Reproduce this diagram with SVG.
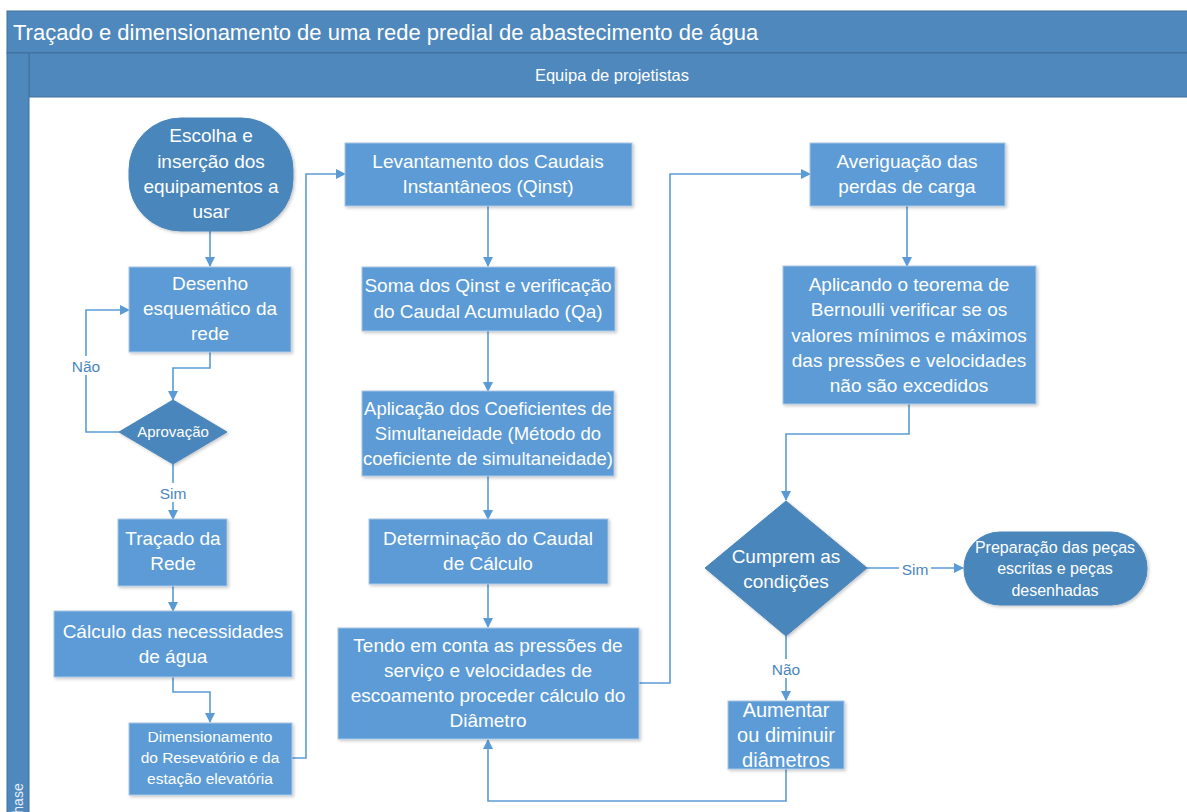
<svg xmlns="http://www.w3.org/2000/svg" width="1187" height="812" viewBox="0 0 1187 812">
<defs>
<style>
.hdr{fill:#4f88bc;stroke:#41719c;stroke-width:1}
.box{fill:#5b9bd5;stroke:#a9c6e6;stroke-width:1;filter:url(#sh)}
.dark{fill:#4a86bb;stroke:#4a86bb;stroke-width:1;filter:url(#sh)}
.t{font-family:"Liberation Sans",Arial,sans-serif;fill:#ffffff;text-anchor:middle}
.lbl{font-family:"Liberation Sans",Arial,sans-serif;fill:#4a86bb;text-anchor:middle;font-size:15.5px}
.c{fill:none;stroke:#5b9bd5;stroke-width:1.6}
</style>
<filter id="sh" x="-10%" y="-10%" width="130%" height="130%">
<feDropShadow dx="1.5" dy="1.5" stdDeviation="1.5" flood-color="#000" flood-opacity="0.22"/>
</filter>
<marker id="ar" markerWidth="10" markerHeight="10" refX="9" refY="5" orient="auto" markerUnits="userSpaceOnUse">
<path d="M0,0 L10,5 L0,10 z" fill="#5b9bd5"/>
</marker>
</defs>
<rect width="1187" height="812" fill="#ffffff"/>
<g id="frame">
<rect class="hdr" x="7" y="11" width="1190" height="42"/>
<rect class="hdr" x="29" y="53" width="1168" height="44"/>
<rect class="hdr" x="7" y="53" width="22" height="770"/>
<text x="13" y="40" font-family="Liberation Sans,Arial,sans-serif" font-size="22" fill="#ffffff">Traçado e dimensionamento de uma rede predial de abastecimento de água</text>
<text class="t" x="612" y="81" font-size="16.5">Equipa de projetistas</text>
<text x="23" y="823" font-family="Liberation Sans,Arial,sans-serif" font-size="14" fill="#e8eef6" transform="rotate(-90 23 823)">Phase</text>
</g>
<g id="connectors">
<path class="c" d="M210,231 V266" marker-end="url(#ar)"/>
<path class="c" d="M210,352 V368 H173 V400" marker-end="url(#ar)"/>
<path class="c" d="M119,432 H86 V310 H129" marker-end="url(#ar)"/>
<path class="c" d="M173,464 V519" marker-end="url(#ar)"/>
<path class="c" d="M173,586 V611" marker-end="url(#ar)"/>
<path class="c" d="M173,677 V692 H210 V722" marker-end="url(#ar)"/>
<path class="c" d="M292,758 H306 V174 H345" marker-end="url(#ar)"/>
<path class="c" d="M488,206 V266" marker-end="url(#ar)"/>
<path class="c" d="M488,331 V391" marker-end="url(#ar)"/>
<path class="c" d="M488,476 V519" marker-end="url(#ar)"/>
<path class="c" d="M488,584 V627" marker-end="url(#ar)"/>
<path class="c" d="M639,683 H670 V174 H810" marker-end="url(#ar)"/>
<path class="c" d="M907,206 V266" marker-end="url(#ar)"/>
<path class="c" d="M909,404 V434 H786 V500" marker-end="url(#ar)"/>
<path class="c" d="M867,568 H963" marker-end="url(#ar)"/>
<path class="c" d="M786,636 V700" marker-end="url(#ar)"/>
<path class="c" d="M786,769 V801 H488 V740" marker-end="url(#ar)"/>
<rect x="69" y="356" width="34" height="19" fill="#ffffff"/>
<text class="lbl" x="86" y="372">Não</text>
<rect x="157" y="483" width="32" height="19" fill="#ffffff"/>
<text class="lbl" x="173" y="499">Sim</text>
<rect x="899" y="559" width="32" height="19" fill="#ffffff"/>
<text class="lbl" x="915" y="575">Sim</text>
<rect x="768" y="659" width="36" height="19" fill="#ffffff"/>
<text class="lbl" x="786" y="675">Não</text>
</g>
<g id="n1">
<rect class="dark" x="129" y="118" width="164" height="113" rx="52" ry="52"/>
<text class="t" font-size="19"><tspan x="211" y="142">Escolha e</tspan><tspan x="211" y="168">inserção dos</tspan><tspan x="211" y="193">equipamentos a</tspan><tspan x="211" y="218">usar</tspan></text>
</g>
<g id="n2">
<rect class="box" x="129" y="267" width="162" height="85"/>
<text class="t" font-size="19"><tspan x="210" y="290">Desenho</tspan><tspan x="210" y="315">esquemático da</tspan><tspan x="210" y="340">rede</tspan></text>
</g>
<g id="n3">
<polygon class="dark" points="173,400 227,432 173,464 119,432"/>
<text class="t" font-size="15" x="173" y="437">Aprovação</text>
</g>
<g id="n4">
<rect class="box" x="118" y="519" width="109" height="67"/>
<text class="t" font-size="19"><tspan x="173" y="545">Traçado da</tspan><tspan x="173" y="570">Rede</tspan></text>
</g>
<g id="n5">
<rect class="box" x="54" y="611" width="238" height="66"/>
<text class="t" font-size="19"><tspan x="173" y="638">Cálculo das necessidades</tspan><tspan x="173" y="663">de água</tspan></text>
</g>
<g id="n6">
<rect class="box" x="129" y="723" width="163" height="72"/>
<text class="t" font-size="15.5"><tspan x="210" y="742">Dimensionamento</tspan><tspan x="210" y="763">do Resevatório e da</tspan><tspan x="210" y="784">estação elevatória</tspan></text>
</g>
<g id="n7">
<rect class="box" x="345" y="143" width="287" height="63"/>
<text class="t" font-size="19"><tspan x="488" y="168">Levantamento dos Caudais</tspan><tspan x="488" y="193">Instantâneos (Qinst)</tspan></text>
</g>
<g id="n8">
<rect class="box" x="362" y="267" width="253" height="64"/>
<text class="t" font-size="19"><tspan x="488" y="292">Soma dos Qinst e verificação</tspan><tspan x="488" y="318">do Caudal Acumulado (Qa)</tspan></text>
</g>
<g id="n9">
<rect class="box" x="362" y="391" width="252" height="85"/>
<text class="t" font-size="18.5"><tspan x="488" y="415">Aplicação dos Coeficientes de</tspan><tspan x="488" y="440">Simultaneidade (Método do</tspan><tspan x="488" y="465">coeficiente de simultaneidade)</tspan></text>
</g>
<g id="n10">
<rect class="box" x="369" y="519" width="239" height="65"/>
<text class="t" font-size="19"><tspan x="488" y="545">Determinação do Caudal</tspan><tspan x="488" y="570">de Cálculo</tspan></text>
</g>
<g id="n11">
<rect class="box" x="338" y="628" width="301" height="111"/>
<text class="t" font-size="19"><tspan x="488" y="652">Tendo em conta as pressões de</tspan><tspan x="488" y="677">serviço e velocidades de</tspan><tspan x="488" y="702">escoamento proceder cálculo do</tspan><tspan x="488" y="727">Diâmetro</tspan></text>
</g>
<g id="n12">
<rect class="box" x="810" y="143" width="195" height="63"/>
<text class="t" font-size="19"><tspan x="907" y="168">Averiguação das</tspan><tspan x="907" y="193">perdas de carga</tspan></text>
</g>
<g id="n13">
<rect class="box" x="783" y="266" width="253" height="138"/>
<text class="t" font-size="19"><tspan x="909" y="291">Aplicando o teorema de</tspan><tspan x="909" y="316">Bernoulli verificar se os</tspan><tspan x="909" y="342">valores mínimos e máximos</tspan><tspan x="909" y="367">das pressões e velocidades</tspan><tspan x="909" y="392">não são excedidos</tspan></text>
</g>
<g id="n14">
<polygon class="dark" points="786,501 867,568 786,636 705,568"/>
<text class="t" font-size="19"><tspan x="786" y="563">Cumprem as</tspan><tspan x="786" y="588">condições</tspan></text>
</g>
<g id="n15">
<rect class="dark" x="964" y="532" width="183" height="73" rx="36" ry="36"/>
<text class="t" font-size="16"><tspan x="1055" y="553">Preparação das peças</tspan><tspan x="1055" y="574">escritas e peças</tspan><tspan x="1055" y="596">desenhadas</tspan></text>
</g>
<g id="n16">
<rect class="box" x="728" y="701" width="116" height="68"/>
<text class="t" font-size="20"><tspan x="786" y="717">Aumentar</tspan><tspan x="786" y="742">ou diminuir</tspan><tspan x="786" y="767">diâmetros</tspan></text>
</g>
</svg>
